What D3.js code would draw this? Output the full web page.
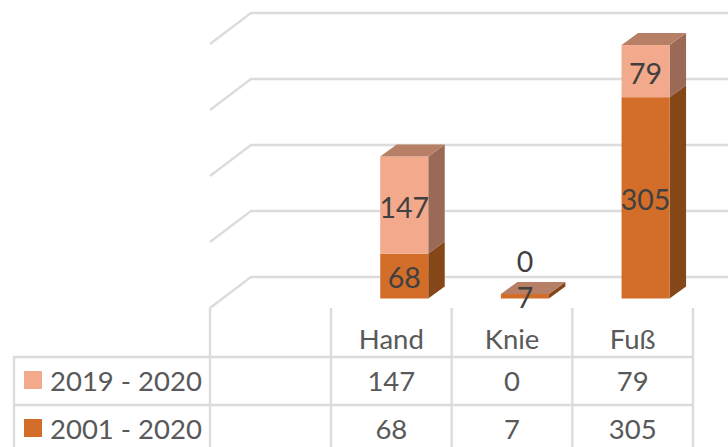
<!DOCTYPE html>
<html><head><meta charset="utf-8">
<script src="https://cdn.jsdelivr.net/npm/d3@7/dist/d3.min.js"></script>
<style>html,body{margin:0;padding:0;background:#fff;overflow:hidden}svg{display:block}text{font-family:Lato,"Open Sans",sans-serif}</style>
</head><body><script>
const categories = ["Hand", "Knie", "Fuß"];
const seriesNames = ["2001 - 2020", "2019 - 2020"];
const values2001 = [68, 7, 305];
const values2019 = [147, 0, 79];
const gridTicks = [0, 100, 200, 300, 400];

const W = 728, H = 447;
const svg = d3.select("body").append("svg").attr("width", W).attr("height", H);
const x = d3.scaleBand().domain(categories).range([331, 693]).paddingInner(0).paddingOuter(0);
const y = d3.scaleLinear().domain([0, 400]).range([277, 13]);
const wall = {dx: 41, dy: 31};
const barOff = 21.5, depth = {dx: 16.5, dy: 12}, barW = 48;
const grid = "#dcdcdc", fontSize = 27.5, dataFontSize = 28.5;
const colors = {light: "#f3a98b", lightTop: "#b77f66", lightSide: "#9b6a56", dark: "#d26e2a", darkSide: "#854718"};

// wall gridlines
const g = svg.append("g").attr("fill", "none").attr("stroke", grid).attr("stroke-width", 2.4);
gridTicks.forEach(t => {
  g.append("path").attr("d", `M${210},${y(t) + wall.dy}L${210 + wall.dx},${y(t)}L${W},${y(t)}`);
});

// table lines
const colEdges = [210, 331, ...categories.map(c => x(c) + x.bandwidth())];
colEdges.forEach(e => svg.append("line").attr("x1", e).attr("x2", e).attr("y1", 308).attr("y2", H).attr("stroke", grid).attr("stroke-width", 2.4));
svg.append("line").attr("x1", 14).attr("x2", 14).attr("y1", 356).attr("y2", H).attr("stroke", grid).attr("stroke-width", 2.4);
[357, 405].forEach(r => svg.append("line").attr("x1", 13).attr("x2", 694).attr("y1", r).attr("y2", r).attr("stroke", grid).attr("stroke-width", 2.4));

// bars
const sy = v => y(v) + barOff;
function box(cx, v0, v1, front, top, side) {
  const l = cx - barW / 2, r = cx + barW / 2, y0 = sy(v0), y1 = sy(v1);
  const gb = svg.append("g");
  gb.append("path").attr("fill", side).attr("d", `M${r},${y1}L${r + depth.dx},${y1 - depth.dy}L${r + depth.dx},${y0 - depth.dy}L${r},${y0}Z`);
  gb.append("rect").attr("x", l).attr("y", y1).attr("width", barW).attr("height", y0 - y1).attr("fill", front);
  if (top) gb.append("path").attr("fill", top).attr("d", `M${l},${y1}L${l + depth.dx},${y1 - depth.dy}L${r + depth.dx},${y1 - depth.dy}L${r},${y1}Z`);
}
const barCx = c => x(c) + x.bandwidth() / 2 + 12.9;
categories.forEach((c, i) => {
  const cx = barCx(c);
  const a = values2001[i], b = values2019[i];
  box(cx, 0, a, colors.dark, b === 0 ? colors.lightTop : null, colors.darkSide);
  if (b > 0) box(cx, a, a + b, colors.light, colors.lightTop, colors.lightSide);
});

// data labels
const lab = (t, px, py, fill, size) => svg.append("text").attr("x", px).attr("y", py).attr("text-anchor", "middle")
  .attr("dominant-baseline", "central").attr("font-size", size).attr("fill", fill).text(t);
categories.forEach((c, i) => {
  const cx = barCx(c);
  const a = values2001[i], b = values2019[i];
  lab(a, cx, (sy(0) + sy(a)) / 2 + 1, "#404040", dataFontSize);
  lab(b, cx, b === 0 ? sy(a) - 33 : (sy(a) + sy(a + b)) / 2 + 2, "#404040", dataFontSize);
});

// category labels and table
categories.forEach((c, i) => {
  const cx = x(c) + x.bandwidth() / 2;
  lab(c, cx, 338, "#595959", fontSize);
  lab(values2019[i], cx, 380, "#595959", fontSize);
  lab(values2001[i], cx, 428, "#595959", fontSize);
});
[[seriesNames[1], colors.light, 380], [seriesNames[0], colors.dark, 428]].forEach(([n, col, cy]) => {
  svg.append("rect").attr("x", 24).attr("y", cy - 9).attr("width", 18).attr("height", 18).attr("fill", col);
  svg.append("text").attr("x", 50).attr("y", cy).attr("dominant-baseline", "central").attr("font-size", fontSize).attr("fill", "#595959").text(n);
});
</script></body></html>
